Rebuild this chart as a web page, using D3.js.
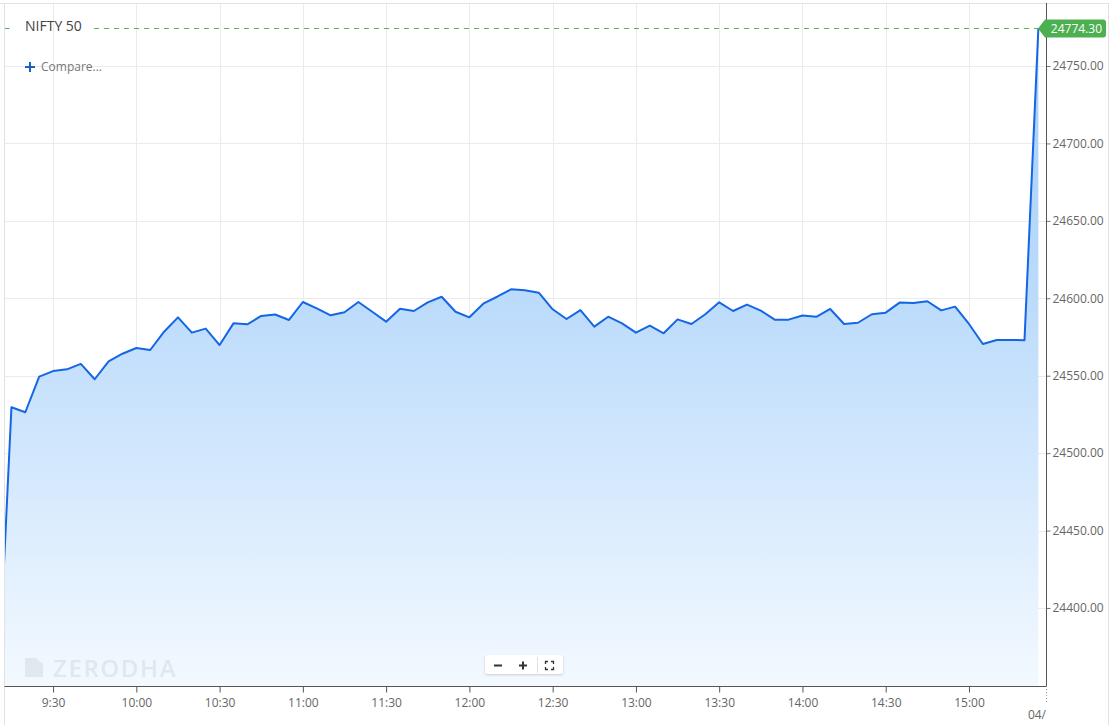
<!DOCTYPE html>
<html>
<head>
<meta charset="utf-8">
<script src="https://cdn.jsdelivr.net/npm/d3@7"></script>
<style>
  html, body { margin: 0; padding: 0; background: #fff; }
  svg { display: block; font-family: "Open Sans", "DejaVu Sans", sans-serif; }
</style>
</head>
<body>
<svg id="chart" width="1109" height="725"></svg>
<script>
// ---- data ----
const seriesName = "NIFTY 50";
const times = ["9:10","9:15","9:20","9:25","9:30","9:35","9:40","9:45","9:50","9:55",
  "10:00","10:05","10:10","10:15","10:20","10:25","10:30","10:35","10:40","10:45","10:50","10:55",
  "11:00","11:05","11:10","11:15","11:20","11:25","11:30","11:35","11:40","11:45","11:50","11:55",
  "12:00","12:05","12:10","12:15","12:20","12:25","12:30","12:35","12:40","12:45","12:50","12:55",
  "13:00","13:05","13:10","13:15","13:20","13:25","13:30","13:35","13:40","13:45","13:50","13:55",
  "14:00","14:05","14:10","14:15","14:20","14:25","14:30","14:35","14:40","14:45","14:50","14:55",
  "15:00","15:05","15:10","15:15","15:20","15:25"];
const values = [24340, 24529.6, 24526.4, 24549.4, 24553.0, 24554.1, 24557.6, 24547.7, 24559.3, 24564.2,
  24567.9, 24566.6, 24578.4, 24587.7, 24577.8, 24580.4, 24569.8, 24583.8, 24583.2, 24588.6, 24589.5, 24586.0,
  24597.6, 24593.5, 24589.0, 24591.0, 24597.6, 24591.3, 24584.9, 24593.3, 24591.8, 24597.4, 24601.0, 24591.3,
  24587.7, 24596.5, 24601.0, 24605.8, 24605.2, 24603.6, 24592.9, 24586.6, 24592.4, 24581.7, 24588.1, 24583.8,
  24577.8, 24582.3, 24577.4, 24586.4, 24583.4, 24589.7, 24597.4, 24591.8, 24595.9, 24592.0, 24586.2, 24586.2,
  24588.9, 24588.0, 24593.1, 24583.4, 24584.2, 24589.7, 24590.7, 24597.2, 24597.0, 24598.1, 24592.2, 24594.6,
  24583.4, 24570.5, 24573.1, 24573.1, 24572.9, 24774.3];
const lastLabel = "24774.30";
const yTicks = [24400, 24450, 24500, 24550, 24600, 24650, 24700, 24750];
const xTickLabels = ["9:30","10:00","10:30","11:00","11:30","12:00","12:30","13:00","13:30","14:00","14:30","15:00"];
const dateLabel = "04/";

// ---- helpers ----
const toDate = s => { const [h, m] = s.split(":").map(Number); return new Date(2024, 8, 3, h, m, 0); };
const data = times.map((t, i) => ({ t: toDate(t), v: values[i] }));

const L = 4.5, R = 1046, T = 3, B = 686;
const svg = d3.select("#chart");

const x = d3.scaleTime()
  .domain([new Date(2024, 8, 3, 9, 12, 30), new Date(2024, 8, 3, 15, 27, 45)])
  .range([L, R]);
const y = d3.scaleLinear().domain([24349.6, 24790.7]).range([B, T]);

const defs = svg.append("defs");
defs.append("clipPath").attr("id", "plotclip")
  .append("rect").attr("x", L).attr("y", T).attr("width", R - L).attr("height", B - T);
const grad = defs.append("linearGradient").attr("id", "fillgrad")
  .attr("gradientUnits", "userSpaceOnUse").attr("x1", 0).attr("x2", 0).attr("y1", T).attr("y2", B);
grad.append("stop").attr("offset", 0).attr("stop-color", "#a4cdf8");
grad.append("stop").attr("offset", 0.43).attr("stop-color", "#bbdbfb");
grad.append("stop").attr("offset", 1).attr("stop-color", "#f3f9ff");
const f = defs.append("filter").attr("id", "shadow").attr("x", "-20%").attr("y", "-40%").attr("width", "140%").attr("height", "180%");
f.append("feDropShadow").attr("dx", 0).attr("dy", 1).attr("stdDeviation", 1.2).attr("flood-color", "#000").attr("flood-opacity", 0.18);

svg.append("rect").attr("x", 0).attr("y", 0).attr("width", 1109).attr("height", 725).attr("fill", "#fff");

// gridlines
const grid = svg.append("g");
grid.selectAll("line.h").data(yTicks).join("line")
  .attr("x1", L).attr("x2", R).attr("y1", d => Math.round(y(d)) + 0.5).attr("y2", d => Math.round(y(d)) + 0.5)
  .attr("stroke", "#ebebeb").attr("stroke-width", 1);
grid.selectAll("line.v").data(xTickLabels).join("line")
  .attr("x1", d => Math.round(x(toDate(d))) + 0.5).attr("x2", d => Math.round(x(toDate(d))) + 0.5)
  .attr("y1", T).attr("y2", B)
  .attr("stroke", "#ebebeb").attr("stroke-width", 1);

// area + line
const plot = svg.append("g").attr("clip-path", "url(#plotclip)");
plot.append("path").datum(data)
  .attr("d", d3.area().x(d => x(d.t)).y0(B).y1(d => y(d.v)))
  .attr("fill", "url(#fillgrad)");
plot.append("path").datum(data)
  .attr("d", d3.line().x(d => x(d.t)).y(d => y(d.v)))
  .attr("fill", "none").attr("stroke", "#1466e4").attr("stroke-width", 2).attr("stroke-linejoin", "round");

// watermark (over the fill, faint)
const wm = svg.append("g").attr("fill", "#c8ccd2").attr("fill-opacity", 0.38);
wm.append("path").attr("d", "M25,658 L36,658 L43,664 L43,677 L25,677 Z");
wm.append("text").attr("x", 53).attr("y", 676.5).attr("font-size", 24).attr("font-weight", 600)
  .attr("letter-spacing", 1.6).text("ZERODHA");

// last price dashed line
const last = data[data.length - 1];
const ly = Math.round(y(last.v)) + 0.5;
svg.append("line").attr("x1", L).attr("x2", 11).attr("y1", ly).attr("y2", ly)
  .attr("stroke", "#5fae5f").attr("stroke-dasharray", "5,5");
svg.append("line").attr("x1", 94).attr("x2", x(last.t)).attr("y1", ly).attr("y2", ly)
  .attr("stroke", "#5fae5f").attr("stroke-dasharray", "5,5");

// frame borders
svg.append("line").attr("x1", 0).attr("x2", 1109).attr("y1", 3.5).attr("y2", 3.5).attr("stroke", "#e2e2e2");
svg.append("line").attr("x1", 4.5).attr("x2", 4.5).attr("y1", 3).attr("y2", 725).attr("stroke", "#e2e2e2");
svg.append("line").attr("x1", 1108.5).attr("x2", 1108.5).attr("y1", 3).attr("y2", 725).attr("stroke", "#e2e2e2");

// axes
const yAxis = d3.axisRight(y).tickValues(yTicks).tickSize(4).tickPadding(2).tickFormat(d3.format(".2f"));
const gy = svg.append("g").attr("transform", `translate(${R + 0.5},0)`).call(yAxis);
gy.select(".domain").remove();
gy.selectAll(".tick line").attr("stroke", "#777");
gy.selectAll(".tick text").attr("fill", "#666").attr("font-size", 12).attr("font-family", "Open Sans");
svg.append("line").attr("x1", R + 0.5).attr("x2", R + 0.5).attr("y1", T).attr("y2", B).attr("stroke", "#555");

const xAxis = d3.axisBottom(x).tickValues(xTickLabels.map(toDate)).tickSize(6).tickPadding(6)
  .tickFormat((d, i) => xTickLabels[i]);
const gx = svg.append("g").attr("transform", `translate(0,${B + 0.5})`).call(xAxis);
gx.select(".domain").remove();
gx.selectAll(".tick line").attr("stroke", "#555");
gx.selectAll(".tick text").attr("fill", "#666").attr("font-size", 12).attr("font-family", "Open Sans");
svg.append("line").attr("x1", L).attr("x2", R + 0.5).attr("y1", B + 0.5).attr("y2", B + 0.5).attr("stroke", "#555");
svg.append("line").attr("x1", R + 0.5).attr("x2", R + 0.5).attr("y1", B).attr("y2", 703)
  .attr("stroke", "#999").attr("stroke-dasharray", "1,2");
svg.append("text").attr("x", R).attr("y", 719).attr("text-anchor", "end")
  .attr("fill", "#666").attr("font-size", 12).text(dateLabel);

// title & compare
svg.append("text").attr("x", 25).attr("y", 31).attr("fill", "#444").attr("font-size", 14).text(seriesName);
svg.append("path").attr("d", "M25,67 L35,67 M30,62 L30,72").attr("stroke", "#1a5fc4").attr("stroke-width", 2);
svg.append("text").attr("x", 41).attr("y", 71).attr("fill", "#777").attr("font-size", 12).text("Compare...");

// last price tag
const tag = svg.append("g");
tag.append("path")
  .attr("d", `M1038,${ly} L1045,${ly - 9} L1103,${ly - 9} Q1106,${ly - 9} 1106,${ly - 6} L1106,${ly + 6} Q1106,${ly + 9} 1103,${ly + 9} L1045,${ly + 9} Z`)
  .attr("fill", "#4caf50");
tag.append("text").attr("x", 1102).attr("y", ly + 4.5).attr("text-anchor", "end")
  .attr("fill", "#fff").attr("font-size", 12).text(lastLabel);

// zoom controls
const zc = svg.append("g");
zc.append("rect").attr("x", 485).attr("y", 655).attr("width", 78).attr("height", 19).attr("rx", 2)
  .attr("fill", "#fff").attr("filter", "url(#shadow)");
zc.append("path").attr("d", "M494,665.5 L502,665.5").attr("stroke", "#333").attr("stroke-width", 2);
zc.append("path").attr("d", "M519,665.5 L527,665.5 M523,661.5 L523,669.5").attr("stroke", "#333").attr("stroke-width", 2);
zc.append("line").attr("x1", 537.5).attr("x2", 537.5).attr("y1", 657).attr("y2", 673).attr("stroke", "#e0e0e0");
zc.append("path")
  .attr("d", "M545.5,664 L545.5,661.5 L548,661.5 M551,661.5 L553.5,661.5 L553.5,664 M553.5,667 L553.5,669.5 L551,669.5 M548,669.5 L545.5,669.5 L545.5,667")
  .attr("stroke", "#333").attr("stroke-width", 1.3).attr("fill", "none");
</script>
</body>
</html>
